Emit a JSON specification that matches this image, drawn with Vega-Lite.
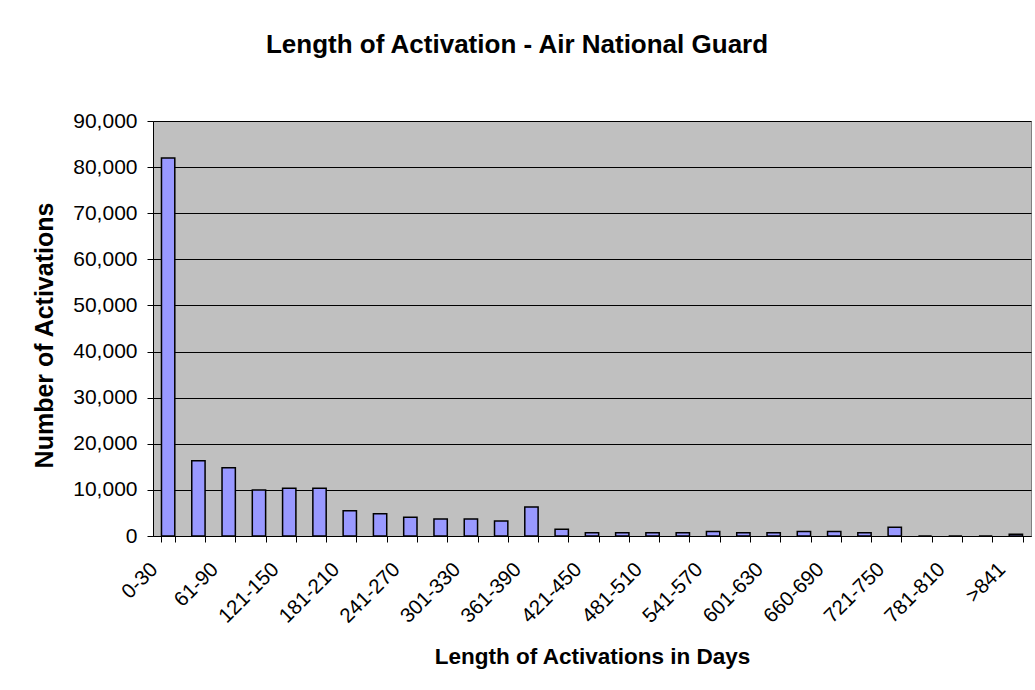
{
  "$schema": "https://vega.github.io/schema/vega-lite/v6.json",
  "width": 878,
  "height": 415,
  "autosize": {"type": "none"},
  "padding": {"left": 153, "top": 121, "right": 4, "bottom": 154},
  "background": "white",
  "title": {
    "text": "Length of Activation - Air National Guard",
    "font": "Liberation Sans",
    "fontSize": 26,
    "fontWeight": "bold",
    "color": "black",
    "anchor": "middle",
    "frame": "group",
    "dx": -75,
    "offset": 31,
    "baseline": "alphabetic"
  },
  "data": {
    "values": [
      {"range": "0-30", "count": 82000},
      {"range": "31-60", "count": 16300},
      {"range": "61-90", "count": 14800},
      {"range": "91-120", "count": 10000},
      {"range": "121-150", "count": 10350},
      {"range": "151-180", "count": 10350},
      {"range": "181-210", "count": 5500},
      {"range": "211-240", "count": 4800},
      {"range": "241-270", "count": 4050},
      {"range": "271-300", "count": 3700},
      {"range": "301-330", "count": 3700},
      {"range": "331-360", "count": 3250},
      {"range": "361-390", "count": 6300},
      {"range": "391-420", "count": 1450},
      {"range": "421-450", "count": 720},
      {"range": "451-480", "count": 720},
      {"range": "481-510", "count": 720},
      {"range": "511-540", "count": 720},
      {"range": "541-570", "count": 1000},
      {"range": "571-600", "count": 720},
      {"range": "601-630", "count": 720},
      {"range": "631-660", "count": 1000},
      {"range": "660-690", "count": 1000},
      {"range": "691-720", "count": 720},
      {"range": "721-750", "count": 1900},
      {"range": "751-780", "count": 0},
      {"range": "781-810", "count": 0},
      {"range": "811-840", "count": 0},
      {"range": ">841", "count": 360}
    ]
  },
  "mark": {"type": "bar", "fill": "#9999FF", "stroke": "black", "strokeWidth": 1.5},
  "encoding": {
    "x": {
      "field": "range",
      "type": "ordinal",
      "sort": null,
      "scale": {"paddingInner": 0.56, "paddingOuter": 0.28},
      "axis": {
        "title": "Length of Activations in Days",
        "titleFont": "Liberation Sans",
        "titleFontSize": 22.5,
        "titleFontWeight": "bold",
        "titleColor": "black",
        "titleY": 120,
        "titleBaseline": "middle",
        "labelFont": "Liberation Sans",
        "labelFontSize": 20.5,
        "labelColor": "black",
        "labelAngle": -45,
        "labelAlign": "right",
        "labelBaseline": "middle",
        "labelPadding": 24,
        "labelOffset": -14,
        "labelOverlap": false,
        "labelExpr": "round(datum.index * 28) % 2 == 0 ? datum.label : ''",
        "tickBand": "extent",
        "tickSize": 6,
        "tickColor": "black",
        "domainColor": "black",
        "grid": false
      }
    },
    "y": {
      "field": "count",
      "type": "quantitative",
      "scale": {"domain": [0, 90000], "nice": false},
      "axis": {
        "title": "Number of Activations",
        "titleFont": "Liberation Sans",
        "titleFontSize": 25,
        "titleFontWeight": "bold",
        "titleColor": "black",
        "titleX": -109,
        "titleY": 214,
        "titleAlign": "center",
        "titleBaseline": "middle",
        "titleAngle": -90,
        "values": [0, 10000, 20000, 30000, 40000, 50000, 60000, 70000, 80000, 90000],
        "format": ",.0f",
        "labelFont": "Liberation Sans",
        "labelFontSize": 21,
        "labelColor": "black",
        "labelPadding": 10,
        "tickSize": 6,
        "tickColor": "black",
        "domainColor": "black",
        "grid": true,
        "gridColor": "black",
        "gridWidth": 1
      }
    }
  },
  "config": {
    "view": {"fill": "#C0C0C0", "stroke": "#808080", "strokeWidth": 1}
  }
}
